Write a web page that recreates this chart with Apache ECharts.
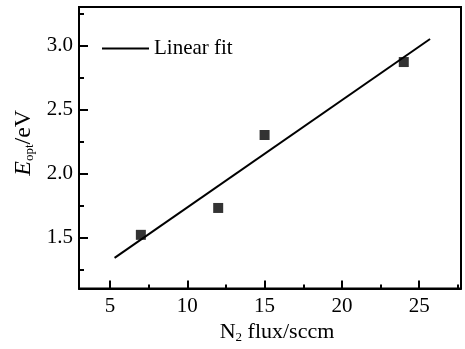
<!DOCTYPE html>
<html>
<head>
<meta charset="utf-8">
<script src="https://cdn.jsdelivr.net/npm/echarts@6/dist/echarts.min.js"></script>
<style>
  html, body { margin: 0; padding: 0; background: #fff; }
  #chart { width: 465px; height: 349px; }
</style>
</head>
<body>
<div id="chart"></div>
<script>
// measured points
var fluxValues = [7, 12, 15, 24];
var gapValues = [1.52, 1.73, 2.30, 2.87];
// linear fit ends
var fitX = [5.3, 25.7];
var fitY = [1.34, 3.05];
// ticks
var xMajor = [5, 10, 15, 20, 25];
var xMinor = [7.5, 12.5, 17.5, 22.5, 27.5];
var yMajor = [1.5, 2.0, 2.5, 3.0];
var yMinor = [1.25, 1.75, 2.25, 2.75, 3.25];

var FONT = "'Liberation Serif', 'Times New Roman', serif";

var myChart = echarts.init(document.getElementById('chart'));

var xBase = { type: 'value', min: 3, max: 27.7, position: 'bottom', splitLine: { show: false } };
var yBase = { type: 'value', min: 1.1, max: 3.3, position: 'left', splitLine: { show: false } };

var option = {
  animation: false,
  grid: {
    left: 79, top: 7, right: 4, bottom: 53,
    show: true, borderColor: '#000', borderWidth: 2, backgroundColor: 'transparent'
  },
  legend: {
    left: 97, top: 33,
    itemWidth: 47, itemHeight: 2,
    data: [{ name: 'Linear fit', icon: 'rect' }],
    textStyle: { fontFamily: FONT, fontSize: 21, color: '#000' }
  },
  xAxis: [
    Object.assign({}, xBase, {
      axisLine: { show: true, lineStyle: { color: '#000', width: 2 } },
      axisTick: { show: true, inside: true, length: 8, customValues: xMajor, lineStyle: { color: '#000', width: 2 } },
      axisLabel: { customValues: xMajor, margin: 7, color: '#000', fontFamily: FONT, fontSize: 21 },
      name: '{n|N}{sub|2}{n| flux/sccm}',
      nameLocation: 'middle',
      nameGap: 29,
      nameTextStyle: {
        padding: [0, 0, 0, 14],
        rich: {
          n: { fontFamily: FONT, fontSize: 22, color: '#000' },
          sub: { fontFamily: FONT, fontSize: 13, color: '#000', padding: [10, 0, 0, 0] }
        }
      }
    }),
    Object.assign({}, xBase, {
      axisLine: { show: false },
      axisTick: { show: true, inside: true, length: 4, customValues: xMinor, lineStyle: { color: '#000', width: 2 } },
      axisLabel: { show: false }
    })
  ],
  yAxis: [
    Object.assign({}, yBase, {
      axisLine: { show: true, lineStyle: { color: '#000', width: 2 } },
      axisTick: { show: true, inside: true, length: 9, customValues: yMajor, lineStyle: { color: '#000', width: 2 } },
      axisLabel: {
        customValues: yMajor, margin: 6, color: '#000', fontFamily: FONT, fontSize: 21,
        formatter: function (v) { return v.toFixed(1); }
      },
      name: '{i|E}{sub|opt}{n|/eV}',
      nameLocation: 'middle',
      nameRotate: 90,
      nameGap: 35,
      nameTextStyle: {
        padding: [0, 0, 0, 10],
        rich: {
          i: { fontFamily: FONT, fontSize: 24, fontStyle: 'italic', color: '#000' },
          n: { fontFamily: FONT, fontSize: 24, color: '#000' },
          sub: { fontFamily: FONT, fontSize: 13, color: '#000', padding: [11, 0, 0, 0] }
        }
      }
    }),
    Object.assign({}, yBase, {
      axisLine: { show: false },
      axisTick: { show: true, inside: true, length: 5, customValues: yMinor, lineStyle: { color: '#000', width: 2 } },
      axisLabel: { show: false }
    })
  ],
  series: [
    {
      name: 'Linear fit',
      type: 'line',
      showSymbol: false,
      symbol: 'none',
      lineStyle: { color: '#000', width: 2 },
      itemStyle: { color: '#000' },
      data: fitX.map(function (x, i) { return [x, fitY[i]]; })
    },
    {
      name: 'Data',
      type: 'scatter',
      symbol: 'rect',
      symbolSize: 10,
      itemStyle: { color: '#000' },
      data: fluxValues.map(function (x, i) { return [x, gapValues[i]]; })
    }
  ]
};

myChart.setOption(option);
</script>
</body>
</html>
